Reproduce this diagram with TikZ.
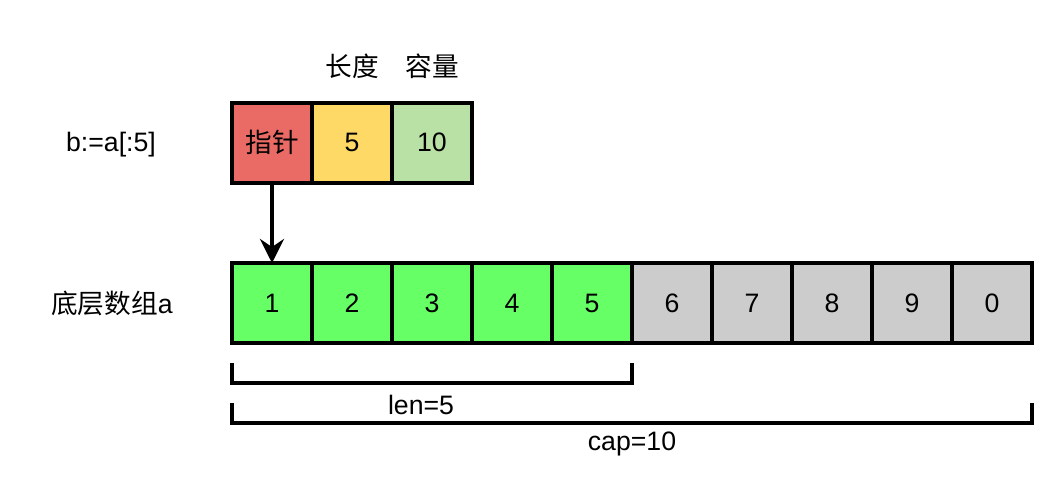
\documentclass[tikz,border=0pt]{standalone}
\usepackage{fontspec}
\setmainfont{Liberation Sans}
\newfontfamily\cjk{Noto Sans CJK SC}
\usepackage{tikz}
\usetikzlibrary{arrows.meta,positioning,calc}
\definecolor{PtrRed}{HTML}{EA6B66}
\definecolor{LenYellow}{HTML}{FFD966}
\definecolor{CapGreen}{HTML}{B9E0A5}
\definecolor{UsedGreen}{HTML}{66FF66}
\definecolor{FreeGray}{HTML}{CCCCCC}

\begin{document}
\begin{tikzpicture}[x=0.75pt,y=-0.75pt,line width=3pt,
    cell/.style={draw,minimum width=60pt,minimum height=60pt,inner sep=0pt,outer sep=0pt,font=\fontsize{20}{24}\selectfont},
    txt/.style={font=\fontsize{20}{24}\selectfont}]
    \useasboundingbox (0,0) rectangle (1061,496);
    % slice header b
    \node[cell,fill=PtrRed] (ptr) at (272,142.5) {\cjk 指针};
    \node[cell,fill=LenYellow,right=0pt of ptr] (len) {5};
    \node[cell,fill=CapGreen,right=0pt of len] (cap) {10};
    \node[txt] (lenlbl) at (352,66) {\cjk 长度};
    \node[txt] (caplbl) at (432,66) {\cjk 容量};
    \node[txt] (slice) at (111,145) {b:=a[:5]};

    % underlying array a
    \foreach \v [count=\i] in {1,...,5}
        \node[cell,fill=UsedGreen] (a\i) at ({192+80*\i},303) {\v};
    \foreach \v [count=\i from 6] in {6,7,8,9,0}
        \node[cell,fill=FreeGray] (a\i) at ({192+80*\i},303) {\v};
    \node[txt] (arr) at (112,303) {{\cjk 底层数组}a};

    \draw[-{Stealth[length=18pt,width=18pt,inset=6pt]}] (ptr.south) -- (a1.north);

    % len / cap brackets
    \draw ($(a1.south west)+(0,20)$) -- ++(0,20) -- ($(a5.south east)+(0,40)$) -- ++(0,-20);
    \draw ($(a1.south west)+(0,60)$) -- ++(0,20) -- ($(a10.south east)+(0,80)$) -- ++(0,-20);
    \node[txt] (lenval) at (421,405) {len=5};
    \node[txt] (capval) at (632,444) {cap=10};
\end{tikzpicture}
\end{document}
